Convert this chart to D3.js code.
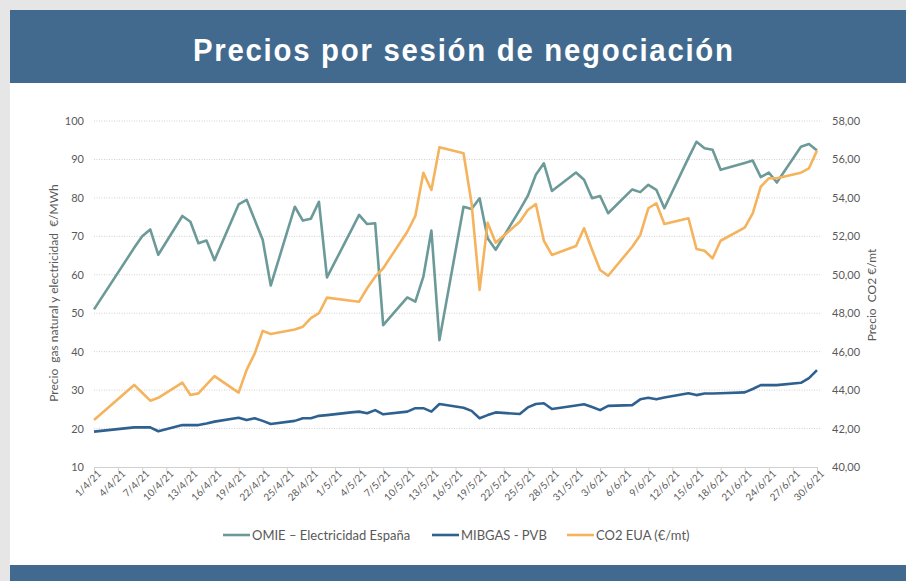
<!DOCTYPE html>
<html>
<head>
<meta charset="utf-8">
<script src="https://d3js.org/d3.v7.min.js"></script>
<style>
  body { margin: 0; background: #e6e6e6; }
  svg { display: block; }
  .tick-label { font-family: Lato, "Open Sans", sans-serif; fill: #595959; }
</style>
</head>
<body>
<svg width="906" height="581"></svg>
<script>
// trading sessions (Apr - Jun 2021)
const sessions = [
    "2021-04-01","2021-04-06","2021-04-07","2021-04-08","2021-04-09","2021-04-12","2021-04-13","2021-04-14","2021-04-15","2021-04-16",
    "2021-04-19","2021-04-20","2021-04-21","2021-04-22","2021-04-23","2021-04-26","2021-04-27","2021-04-28","2021-04-29","2021-04-30",
    "2021-05-03","2021-05-04","2021-05-05","2021-05-06","2021-05-07","2021-05-10","2021-05-11","2021-05-12","2021-05-13","2021-05-14",
    "2021-05-17","2021-05-18","2021-05-19","2021-05-20","2021-05-21","2021-05-24","2021-05-25","2021-05-26","2021-05-27","2021-05-28","2021-05-31",
    "2021-06-01","2021-06-02","2021-06-03","2021-06-04","2021-06-07","2021-06-08","2021-06-09","2021-06-10","2021-06-11",
    "2021-06-14","2021-06-15","2021-06-16","2021-06-17","2021-06-18","2021-06-21","2021-06-22","2021-06-23","2021-06-24","2021-06-25",
    "2021-06-28","2021-06-29","2021-06-30"
];

// OMIE - Electricidad España (€/MWh, left axis)
const omie = [
    51.0, 67.0, 70.0, 71.8, 65.2, 75.3, 73.8, 68.2, 68.9, 63.8,
    78.3, 79.5, 74.3, 69.1, 57.2, 77.7, 74.1, 74.6, 79.0, 59.3,
    71.5, 75.6, 73.2, 73.4, 46.9, 54.1, 53.0, 59.5, 71.5, 43.0,
    77.7, 77.1, 79.9, 69.5, 66.5, 76.9, 80.5, 86.0, 89.0, 81.8, 86.6,
    84.7, 79.9, 80.5, 76.0, 82.2, 81.5, 83.4, 82.1, 77.3,
    90.4, 94.6, 92.9, 92.5, 87.3, 89.1, 89.7, 85.4, 86.6, 84.0,
    93.3, 94.0, 92.3
];

// MIBGAS - PVB (€/MWh, left axis)
const mibgas = [
    19.2, 20.3, 20.3, 20.3, 19.3, 20.9, 20.9, 20.9, 21.3, 21.8,
    22.8, 22.2, 22.7, 22.0, 21.2, 22.0, 22.7, 22.7, 23.3, 23.5,
    24.2, 24.4, 24.0, 24.8, 23.7, 24.4, 25.3, 25.3, 24.4, 26.4,
    25.4, 24.6, 22.7, 23.5, 24.2, 23.8, 25.5, 26.4, 26.6, 25.1, 26.0,
    26.3, 25.6, 24.8, 25.9, 26.1, 27.6, 28.0, 27.6, 28.1,
    29.2, 28.7, 29.1, 29.1, 29.2, 29.4, 30.3, 31.3, 31.3, 31.3,
    31.9, 33.1, 35.2
];

// CO2 EUA (€/mt, right axis)
const co2 = [
    42.45, 44.27, 43.86, 43.45, 43.60, 44.39, 43.75, 43.83, 44.28, 44.73,
    43.87, 45.05, 45.90, 47.08, 46.92, 47.15, 47.30, 47.74, 48.00, 48.81,
    48.65, 48.60, 49.30, 49.90, 50.34, 52.24, 53.06, 55.31, 54.41, 56.63,
    56.32, 53.72, 49.21, 52.71, 51.67, 52.76, 53.37, 53.68, 51.77, 51.03, 51.50,
    52.42, 51.30, 50.25, 49.95, 51.46, 52.07, 53.46, 53.72, 52.64,
    52.94, 51.34, 51.25, 50.86, 51.77, 52.45, 53.20, 54.58, 55.02, 55.02,
    55.31, 55.54, 56.46
];

const leftTicks = [10, 20, 30, 40, 50, 60, 70, 80, 90, 100];
const rightTicks = [40, 42, 44, 46, 48, 50, 52, 54, 56, 58];

const seriesNames = ["OMIE – Electricidad España", "MIBGAS - PVB", "CO2 EUA (€/mt)"];
const seriesColors = ["#6b9a99", "#2f6190", "#f5b35d"];

const svg = d3.select("svg"),
    width = +svg.attr("width"),
    height = +svg.attr("height");

const plot = { left: 94, right: 817, top: 121, bottom: 467 };
const parse = d3.timeParse("%Y-%m-%d");
const dates = sessions.map(parse);

// frame: white card, header band, footer band
svg.append("rect").attr("x", 10).attr("y", 10).attr("width", width - 10).attr("height", height - 10).attr("fill", "#fff");
svg.append("rect").attr("x", 10).attr("y", 10).attr("width", width - 10).attr("height", 73).attr("fill", "#426a8f");
svg.append("rect").attr("x", 10).attr("y", 565).attr("width", width - 10).attr("height", height - 565).attr("fill", "#426a8f");

// title: slightly tall bold glyphs fitted to the reference width
const titleSX = 1.05, titleSY = 1.15;
svg.append("text")
    .attr("transform", `translate(463,61) scale(${titleSX},${titleSY})`)
    .attr("text-anchor", "middle")
    .attr("fill", "#fff")
    .attr("font-family", "'Liberation Sans', Arial, sans-serif")
    .attr("font-weight", "bold")
    .attr("font-size", 28)
    .attr("textLength", 540 / titleSX)
    .attr("lengthAdjust", "spacing")
    .text("Precios por sesión de negociación");

// scales
const x = d3.scaleTime()
    .domain([parse("2021-04-01"), parse("2021-06-30")])
    .range([plot.left, plot.right]);

const yLeft = d3.scaleLinear().domain([10, 100]).range([plot.bottom, plot.top]);
const yRight = d3.scaleLinear().domain([40, 58]).range([plot.bottom, plot.top]);

// gridlines (dotted)
svg.append("g")
    .selectAll("line")
    .data(leftTicks.slice(1))
    .enter().append("line")
    .attr("x1", plot.left).attr("x2", 820)
    .attr("y1", d => yLeft(d)).attr("y2", d => yLeft(d))
    .attr("stroke", "#d0d0d0")
    .attr("stroke-width", 1)
    .attr("stroke-dasharray", "1,1.5");

// left axis labels
svg.append("g")
    .selectAll("text")
    .data(leftTicks)
    .enter().append("text")
    .attr("class", "tick-label")
    .attr("x", 84).attr("y", d => yLeft(d) + 4)
    .attr("text-anchor", "end")
    .attr("font-size", 11)
    .text(d => d);

// right axis labels
const fmtRight = v => d3.format(".2f")(v).replace(".", ",");
svg.append("g")
    .selectAll("text")
    .data(rightTicks)
    .enter().append("text")
    .attr("class", "tick-label")
    .attr("x", 832).attr("y", d => yRight(d) + 4)
    .attr("font-size", 11)
    .text(fmtRight);

// x axis
const xTicks = d3.timeDay.range(parse("2021-04-01"), parse("2021-07-01"), 3);
const xAxis = d3.axisBottom(x)
    .tickValues(xTicks)
    .tickSize(5)
    .tickFormat(d3.timeFormat("%-d/%-m/%y"));

const gx = svg.append("g")
    .attr("transform", `translate(0,${plot.bottom})`)
    .call(xAxis);
gx.select(".domain").attr("stroke", "#d0d0d0");
gx.selectAll(".tick line").attr("stroke", "#d0d0d0");
gx.selectAll(".tick text")
    .attr("class", "tick-label")
    .attr("font-size", 10)
    .attr("text-anchor", "end")
    .attr("transform", "translate(5,5) rotate(-45)")
    .attr("dy", "0.35em")
    .attr("y", 0).attr("x", 0);

// axis titles
svg.append("text")
    .attr("class", "tick-label")
    .attr("transform", "translate(58,293) rotate(-90)")
    .attr("text-anchor", "middle")
    .attr("font-size", 12)
    .attr("xml:space", "preserve")
    .text("Precio  gas natural y electricidad  €/MWh");

svg.append("text")
    .attr("class", "tick-label")
    .attr("transform", "translate(876,295) rotate(-90)")
    .attr("text-anchor", "middle")
    .attr("font-size", 12)
    .attr("xml:space", "preserve")
    .text("Precio  CO2 €/mt");

// lines
const lineLeft = d3.line().x((d, i) => x(dates[i])).y(d => yLeft(d));
const lineRight = d3.line().x((d, i) => x(dates[i])).y(d => yRight(d));

const series = [
    { values: omie, line: lineLeft, color: seriesColors[0] },
    { values: mibgas, line: lineLeft, color: seriesColors[1] },
    { values: co2, line: lineRight, color: seriesColors[2] }
];

svg.append("g")
    .selectAll("path")
    .data(series)
    .enter().append("path")
    .attr("fill", "none")
    .attr("stroke", d => d.color)
    .attr("stroke-width", 2.6)
    .attr("stroke-linejoin", "round")
    .attr("d", d => d.line(d.values));

// legend
const legendX = [223, 432, 567];
const legend = svg.append("g")
    .selectAll("g")
    .data(seriesNames)
    .enter().append("g")
    .attr("transform", (d, i) => `translate(${legendX[i]},535)`);

legend.append("line")
    .attr("x1", 0).attr("x2", 27)
    .attr("stroke", (d, i) => seriesColors[i])
    .attr("stroke-width", 2.6);

legend.append("text")
    .attr("class", "tick-label")
    .attr("x", 29).attr("y", 4.5)
    .attr("font-size", 13)
    .text(d => d);
</script>
</body>
</html>
